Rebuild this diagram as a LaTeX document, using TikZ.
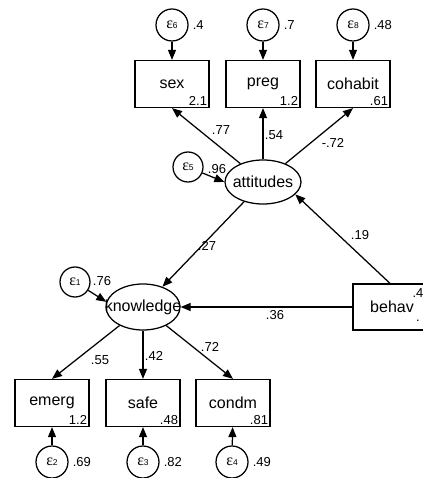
\documentclass[tikz,border=0pt]{standalone}
\usepackage{fontspec}
\setmainfont{Liberation Sans}
\newfontfamily\epsfont{Liberation Serif}
\usetikzlibrary{arrows.meta,shapes.geometric}
\newcommand\myeps[1]{{\epsfont\fontsize{16}{16}\selectfont ε}{\fontsize{8.5}{8.5}\selectfont #1}}
\begin{document}
\begin{tikzpicture}[x=1pt,y=-1pt,line width=1.25pt,
  obs/.style={draw,rectangle,minimum width=74pt,minimum height=47pt,inner sep=0pt,font=\fontsize{16}{16}\selectfont},
  lat/.style={draw,ellipse,minimum width=76pt,minimum height=44pt,inner sep=0pt,font=\fontsize{16}{16}\selectfont},
  err/.style={draw,circle,minimum size=32pt,inner sep=0pt},
  num/.style={font=\fontsize{13}{13}\selectfont,inner sep=1pt},
  pth/.style={-{Triangle[length=10pt,width=8pt]}},
]
\useasboundingbox (0,0) rectangle (422,478);
% top row
\node[err] (e6) at (172,25) {\myeps{6}};
\node[err] (e7) at (263,25) {\myeps{7}};
\node[err] (e8) at (353,25) {\myeps{8}};
\node[obs] (sex) at (172,84) {sex};
\node[obs] (preg) at (263,84) {preg};
\node[obs] (cohabit) at (353,84) {cohabit};
\node[num,anchor=west] (v6) at ([xshift=2.5pt]e6.east) {.4};
\node[num,anchor=west] (v7) at ([xshift=2.5pt]e7.east) {.7};
\node[num,anchor=west] (v8) at ([xshift=2.5pt]e8.east) {.48};
\node[num,anchor=south east] (m1) at ([shift={(-1,-1)}]sex.south east) {2.1};
\node[num,anchor=south east] (m2) at ([shift={(-1,-1)}]preg.south east) {1.2};
\node[num,anchor=south east] (m3) at ([shift={(-1,-1)}]cohabit.south east) {.61};
% latent
\node[lat] (att) at (263,182) {\makebox[0pt]{attitudes}};
\node[err,minimum size=30pt] (e5) at (188,167) {\myeps{5}};
\node[num] (v5) at (217,169) {.96};
\node[lat,minimum width=74pt,minimum height=46pt] (know) at (143,307) {\makebox[0pt]{knowledge}};
\node[err,minimum size=30pt] (e1) at (75,282) {\myeps{1}};
\node[num] (v1) at (102,281) {.76};
\node[obs,minimum height=46pt] (behav) at (390,307) {\hspace*{4pt}behav};
\node[num] (bv) at (418,293) {.4};
\node[num] (bm) at (418,321) {.};
% bottom row
\node[obs] (emerg) at (52,403) {emerg};
\node[obs] (safe) at (143,403) {safe};
\node[obs] (condm) at (233,403) {condm};
\node[num,anchor=south east] (m4) at ([shift={(-1,-1)}]emerg.south east) {1.2};
\node[num,anchor=south east] (m5) at ([shift={(-1,-1)}]safe.south east) {.48};
\node[num,anchor=south east] (m6) at ([shift={(-1,-1)}]condm.south east) {.81};
\node[err] (e2) at (52,462) {\myeps{2}};
\node[err] (e3) at (143,462) {\myeps{3}};
\node[err] (e4) at (232,462) {\myeps{4}};
\node[num,anchor=west] (v2) at ([xshift=2.5pt]e2.east) {.69};
\node[num,anchor=west] (v3) at ([xshift=2.5pt]e3.east) {.82};
\node[num,anchor=west] (v4) at ([xshift=2.5pt]e4.east) {.49};
% connectors
\draw[pth] (e6) -- (sex);
\draw[pth] (e7) -- (preg);
\draw[pth] (e8) -- (cohabit);
\draw[pth] (att) -- (sex.south);
\draw[pth] (att) -- (preg.south);
\draw[pth] (att) -- (cohabit.south);
\draw[pth] (e5) -- (att.west);
\draw[pth] (att) -- (know);
\draw[pth] (behav.north) -- (att.-21);
\draw[pth] (behav) -- (know);
\draw[pth] (e1) -- (know.172);
\draw[pth] (know) -- (emerg.north);
\draw[pth] (know) -- (safe);
\draw[pth] (know) -- (condm.north);
\draw[pth] (e2) -- (emerg);
\draw[pth] (e3) -- (safe);
\draw[pth] (e4) -- (condm);
% path labels
\node[num] (l1) at (221,130) {.77};
\node[num] (l2) at (274,135) {.54};
\node[num] (l3) at (333,143) {-.72};
\node[num] (l4) at (360,235) {.19};
\node[num] (l5) at (207,246) {.27};
\node[num] (l6) at (275,315) {.36};
\node[num] (l7) at (100,360) {.55};
\node[num] (l8) at (154,356) {.42};
\node[num] (l9) at (210,347) {.72};
\end{tikzpicture}
\end{document}
